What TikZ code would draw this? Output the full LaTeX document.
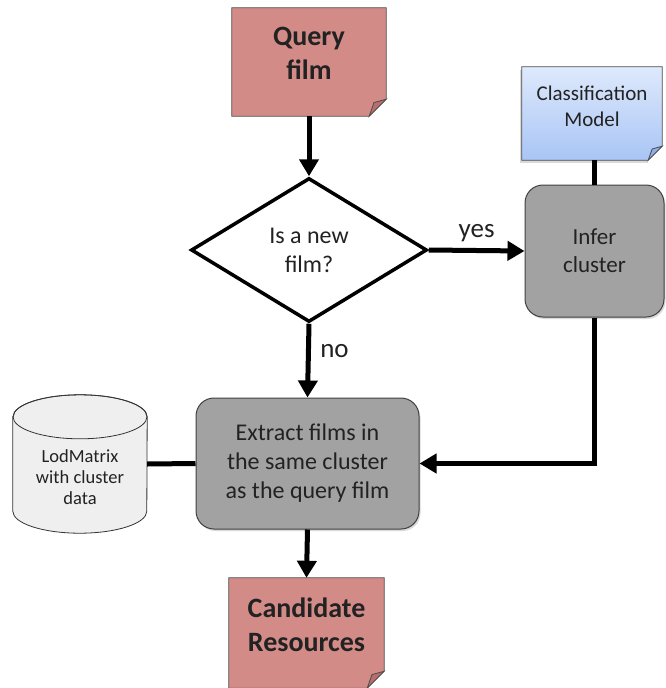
\documentclass[tikz,border=0pt]{standalone}
\usepackage{fontspec}
\setmainfont{Carlito}
\usetikzlibrary{shapes.geometric,arrows.meta,shadows}
\definecolor{notered}{HTML}{D38B88}
\definecolor{notefold}{HTML}{B86F6C}
\definecolor{boxgray}{HTML}{A2A2A2}
\definecolor{bluetop}{HTML}{DEE9FC}
\definecolor{bluebot}{HTML}{A9C5F5}
\definecolor{bluefold}{HTML}{8FAEE6}
\definecolor{dbfill}{HTML}{EFEFEF}
\definecolor{txt}{HTML}{222222}
\newcommand\dogear[4]{%
  \path[#2, draw=black!70, line width=0.8pt] (#1.north west) -- (#1.north east) -- ([yshift=#3]#1.south east) -- ([xshift=-#3]#1.south east) -- (#1.south west) -- cycle;
  \path[fill=#4, draw=black!70, line width=0.8pt] ([yshift=#3]#1.south east) -- ([xshift=-#3]#1.south east) -- ([xshift=-0.72*#3,yshift=0.8*#3]#1.south east) -- cycle;
}
\begin{document}
\begin{tikzpicture}[x=1pt,y=1pt,
  conn/.style={line width=5pt, draw=black},
  arr/.style={conn, -{Triangle[length=17pt,width=19pt]}},
  proc/.style={rectangle, rounded corners=18pt, draw=black!75, line width=1pt, fill=boxgray, align=center, text=txt, inner sep=0pt,
    drop shadow={opacity=0.3, shadow xshift=1.5pt, shadow yshift=-2pt}},
  notebox/.style={rectangle, draw=none, inner sep=0pt},
  notetext/.style={align=center, text=txt, font=\fontsize{28}{34}\selectfont\bfseries},
  decision/.style={diamond, draw=black, line width=3.5pt, fill=white, aspect=1.64, inner sep=0pt, minimum width=236pt, minimum height=144pt,
    align=center, text=txt, font=\fontsize{24}{29}\selectfont},
  lbl/.style={text=txt, font=\fontsize{27}{32}\selectfont}
]
\useasboundingbox (0,0) rectangle (665,-688);

% note boxes
\node[notebox, minimum width=154pt, minimum height=108pt] (q) at (309,-62) {};
\dogear{q}{fill=notered}{17pt}{notefold}
\node[notetext] (qt) at ([yshift=9pt]q.center) {Query\\film};

\node[notebox, minimum width=140pt, minimum height=93pt] (cls) at (592,-113.5) {};
\fill[black, opacity=0.15] ([xshift=-2pt,yshift=-3pt]cls.north west) rectangle ([xshift=-14pt,yshift=-3pt]cls.south east);
\dogear{cls}{top color=bluetop, bottom color=bluebot}{14pt}{bluefold}
\node[align=center, text=txt, font=\fontsize{21}{26}\selectfont] (clst) at ([yshift=7pt]cls.center) {Classification\\Model};

\node[notebox, minimum width=155pt, minimum height=110pt] (cand) at (306.5,-633) {};
\dogear{cand}{fill=notered}{17pt}{notefold}
\node[notetext] (candt) at ([yshift=8.5pt]cand.center) {Candidate\\Resources};

% decision and processes
\node[decision] (dec) at (309,-250) {Is a new\\film?};
\node[proc, minimum width=139pt, minimum height=132pt, font=\fontsize{23}{28}\selectfont] (inf) at (594.5,-251) {Infer\\cluster};
\node[proc, minimum width=223pt, minimum height=131pt, font=\fontsize{24}{29}\selectfont] (ex) at (307.5,-463.5) {Extract films in\\the same cluster\\as the query film};

% database cylinder
\node[rectangle, draw=none, minimum width=134pt, minimum height=94pt, inner sep=0pt] (db) at (80,-464) {};
\path[fill=dbfill, draw=black!80, line width=0.8pt] (db.north west) -- (db.south west) arc[start angle=180, end angle=360, x radius=67pt, y radius=22pt] -- (db.north east) arc[start angle=0, end angle=180, x radius=67pt, y radius=22pt] -- cycle;
\draw[black!80, line width=0.8pt] (db.north) ellipse[x radius=67pt, y radius=22pt];
\node[align=center, text=txt, font=\fontsize{18.5}{21}\selectfont] (dbt) at (80,-477) {LodMatrix\\with cluster\\data};

% connectors
\draw[arr] (q.south) -- (dec.north);
\draw[arr] (dec.east) -- node[lbl, above=3pt] {yes} (inf.west);
\draw[arr] (dec.south) -- node[lbl, right=6pt, pos=0.37] {no} (ex.north);
\draw[conn] (inf.north) -- (inf.north |- cls.south);
\draw[arr] (inf.south) |- (ex.east);
\draw[conn] (db.east) -- (ex.west);
\draw[arr] (ex.south) -- (cand.north);
\end{tikzpicture}
\end{document}
